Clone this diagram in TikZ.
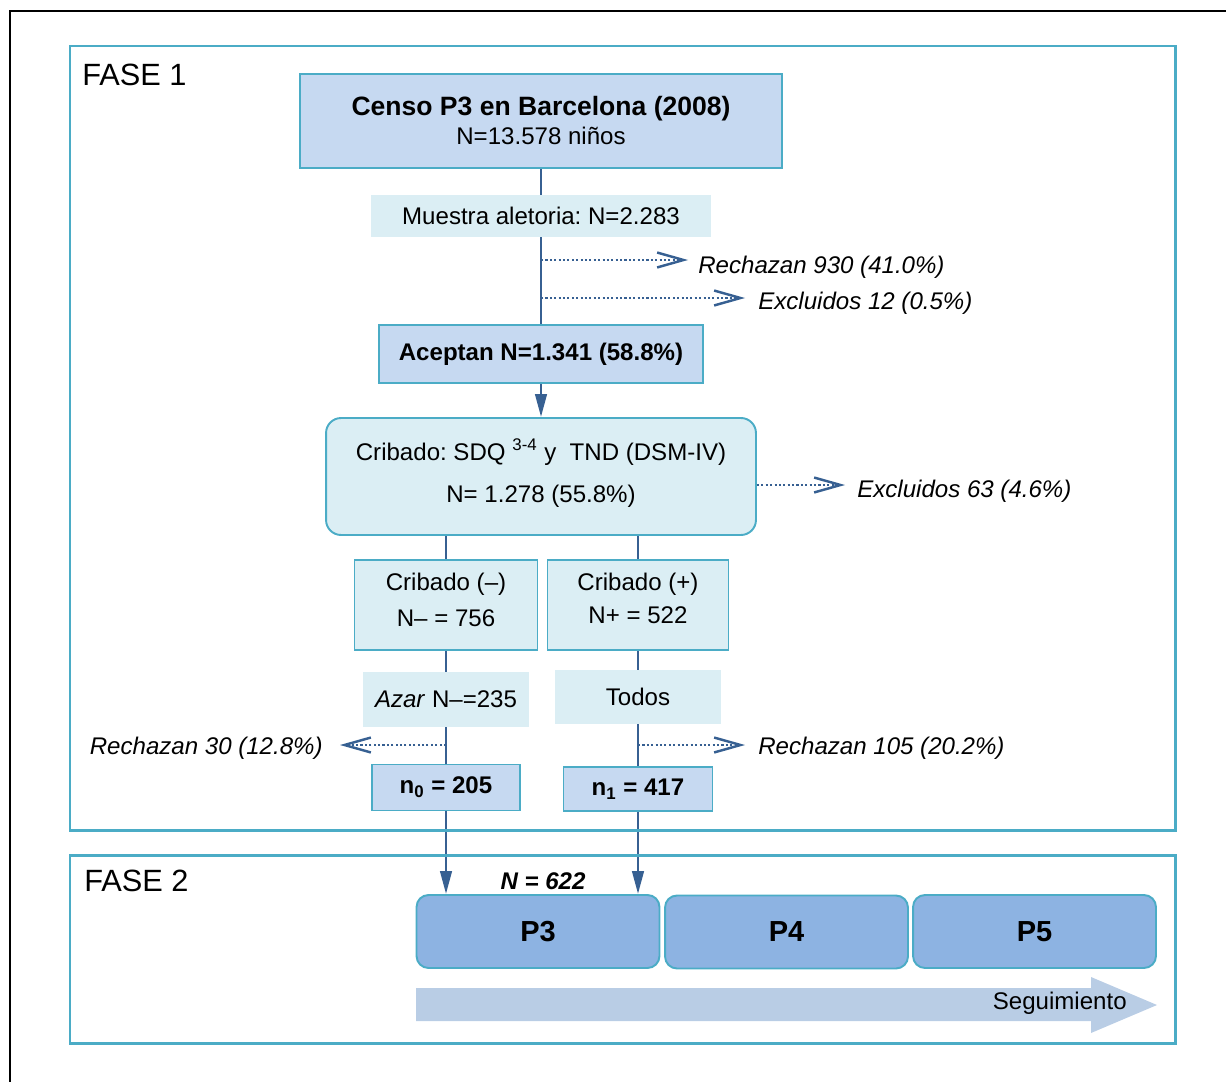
\documentclass[tikz,border=0pt]{standalone}
\usepackage{fontspec}
\setmainfont{Liberation Sans}
\usetikzlibrary{arrows.meta,backgrounds}
\frenchspacing
\definecolor{borde}{HTML}{4BACC6}
\definecolor{azulclaro}{HTML}{C6D9F1}
\definecolor{cian}{HTML}{DBEEF4}
\definecolor{azulp}{HTML}{8DB3E2}
\definecolor{flecha}{HTML}{B9CDE5}
\definecolor{azulosc}{HTML}{376092}
\newcommand\normaltam{\fontsize{13.7}{16.5}\selectfont}
\tikzset{
	caja/.style={draw=borde,line width=1.1pt,fill=azulclaro,inner sep=0pt,align=center,font=\normaltam},
	cajacian/.style={caja,fill=cian},
	franja/.style={fill=cian,inner sep=0pt,align=center,font=\normaltam},
	periodo/.style={draw=borde,line width=1.1pt,fill=azulp,rounded corners=0.24cm,inner sep=0pt,
		minimum width=4.86cm,minimum height=1.46cm,font=\fontsize{16.5}{19}\selectfont\bfseries},
	fase/.style={draw=borde,line width=1.7pt},
	titulo/.style={inner sep=0pt,font=\fontsize{17.5}{20}\selectfont},
	linea/.style={draw=azulosc,line width=1.6pt},
	flechaobs/.style={linea,-{Triangle[length=13pt,width=6.5pt]}},
	punteada/.style={draw=azulosc,line width=1.3pt,dash pattern=on 1.2pt off 1.3pt,
		-{Straight Barb[length=15pt,width=8.5pt,line width=1.4pt]}},
	rotulo/.style={inner sep=0pt,font=\normaltam\itshape},
}
\begin{document}
\begin{tikzpicture}[x=0.02cm,y=-0.02cm]
\useasboundingbox (0,0) rectangle (1226,1081);
\draw[line width=1.2pt] (10,11) rectangle (1260,1110);
\draw[fase] (70,46) rectangle (1175,830);
\draw[fase] (70,855) rectangle (1175,1043);
\node[titulo,anchor=base west] (fase1) at (82,86) {FASE 1};
\node[titulo,anchor=base west] (fase2) at (84,891) {FASE 2};

\node[caja,minimum width=9.64cm,minimum height=1.88cm] (censo) at (541,121)
	{{\fontsize{15.1}{16.5}\selectfont\bfseries Censo P3 en Barcelona (2008)}\\ N=13.578 niños};
\node[franja,minimum width=6.8cm,minimum height=0.84cm] (muestra) at (541,216) {Muestra aletoria: N=2.283};
\node[caja,minimum width=6.48cm,minimum height=1.16cm,font=\normaltam\bfseries] (aceptan) at (541,354) {Aceptan N=1.341 (58.8\%)};
\node[cajacian,rounded corners=0.3cm,minimum width=8.6cm,minimum height=2.34cm] (cribado) at (541,476.5)
	{Cribado: SDQ \textsuperscript{3-4} y\ \ TND (DSM-IV)\\[7.4pt] N= 1.278 (55.8\%)\\[-9.8pt]};
\node[cajacian,minimum width=3.66cm,minimum height=1.8cm] (crineg) at (446,605) {Cribado (--)\\[4pt] N-- = 756\\[-10pt]};
\node[cajacian,minimum width=3.62cm,minimum height=1.8cm] (cripos) at (638,605) {Cribado (+)\\[2.3pt] N+ = 522\\[-8.7pt]};
\node[franja,minimum width=3.34cm,minimum height=1.1cm] (azar) at (446,699.5) {\textit{Azar} N--=235};
\node[franja,minimum width=3.34cm,minimum height=1.08cm] (todos) at (638,697) {Todos};
\node[caja,minimum width=2.96cm,minimum height=0.92cm,font=\normaltam\bfseries] (n0) at (446,787.5) {n\textsubscript{0} = 205};
\node[caja,minimum width=2.98cm,minimum height=0.88cm,font=\normaltam\bfseries] (n1) at (638,789) {n\textsubscript{1} = 417};

\node[periodo] (p3) at (538,931.5) {P3};
\node[periodo] (p4) at (786.5,932) {P4};
\node[periodo] (p5) at (1034.5,931.5) {P5};
\node[inner sep=0pt,font=\normaltam\bfseries\itshape] (total) at (543,881) {N = 622};

\fill[flecha] (416,988) -- (1091,988) -- (1091,977) -- (1157,1005) -- (1091,1033) -- (1091,1021) -- (416,1021) -- cycle;
\node[inner sep=0pt,font=\normaltam,anchor=east] (seg) at (1127,1003) {Seguimiento};

\begin{scope}[on background layer]
\draw[linea] (censo.south) -- (aceptan.north);
\draw[flechaobs] (aceptan) -- (cribado);
\draw[linea] (crineg.north |- cribado.south) -- (crineg.north);
\draw[linea] (cripos.north |- cribado.south) -- (cripos.north);
\draw[linea] (crineg) -- (n0);
\draw[linea] (cripos) -- (n1);
\draw[flechaobs] (n0) -- (n0 |- p3.north);
\draw[flechaobs] (n1) -- (n1 |- p3.north);
\end{scope}

\coordinate (t1) at (688,260);
\coordinate (t2) at (745,298);
\coordinate (t3) at (845,485);
\coordinate (t4) at (340,745);
\coordinate (t5) at (745,745);
\node[rotulo,anchor=base west] (rech1) at (698,273) {Rechazan 930 (41.0\%)};
\node[rotulo,anchor=base west] (excl1) at (758,309) {Excluidos 12 (0.5\%)};
\node[rotulo,anchor=base west] (excl2) at (857,497) {Excluidos 63 (4.6\%)};
\node[rotulo,anchor=base east] (rech2) at (323,754) {Rechazan 30 (12.8\%)};
\node[rotulo,anchor=base west] (rech3) at (758,754) {Rechazan 105 (20.2\%)};
\draw[punteada] (censo.south |- t1) -- (t1);
\draw[punteada] (censo.south |- t2) -- (t2);
\draw[punteada] (cribado.east |- t3) -- (t3);
\draw[punteada] (n0.north |- t4) -- (t4);
\draw[punteada] (n1.north |- t5) -- (t5);
\end{tikzpicture}
\end{document}
